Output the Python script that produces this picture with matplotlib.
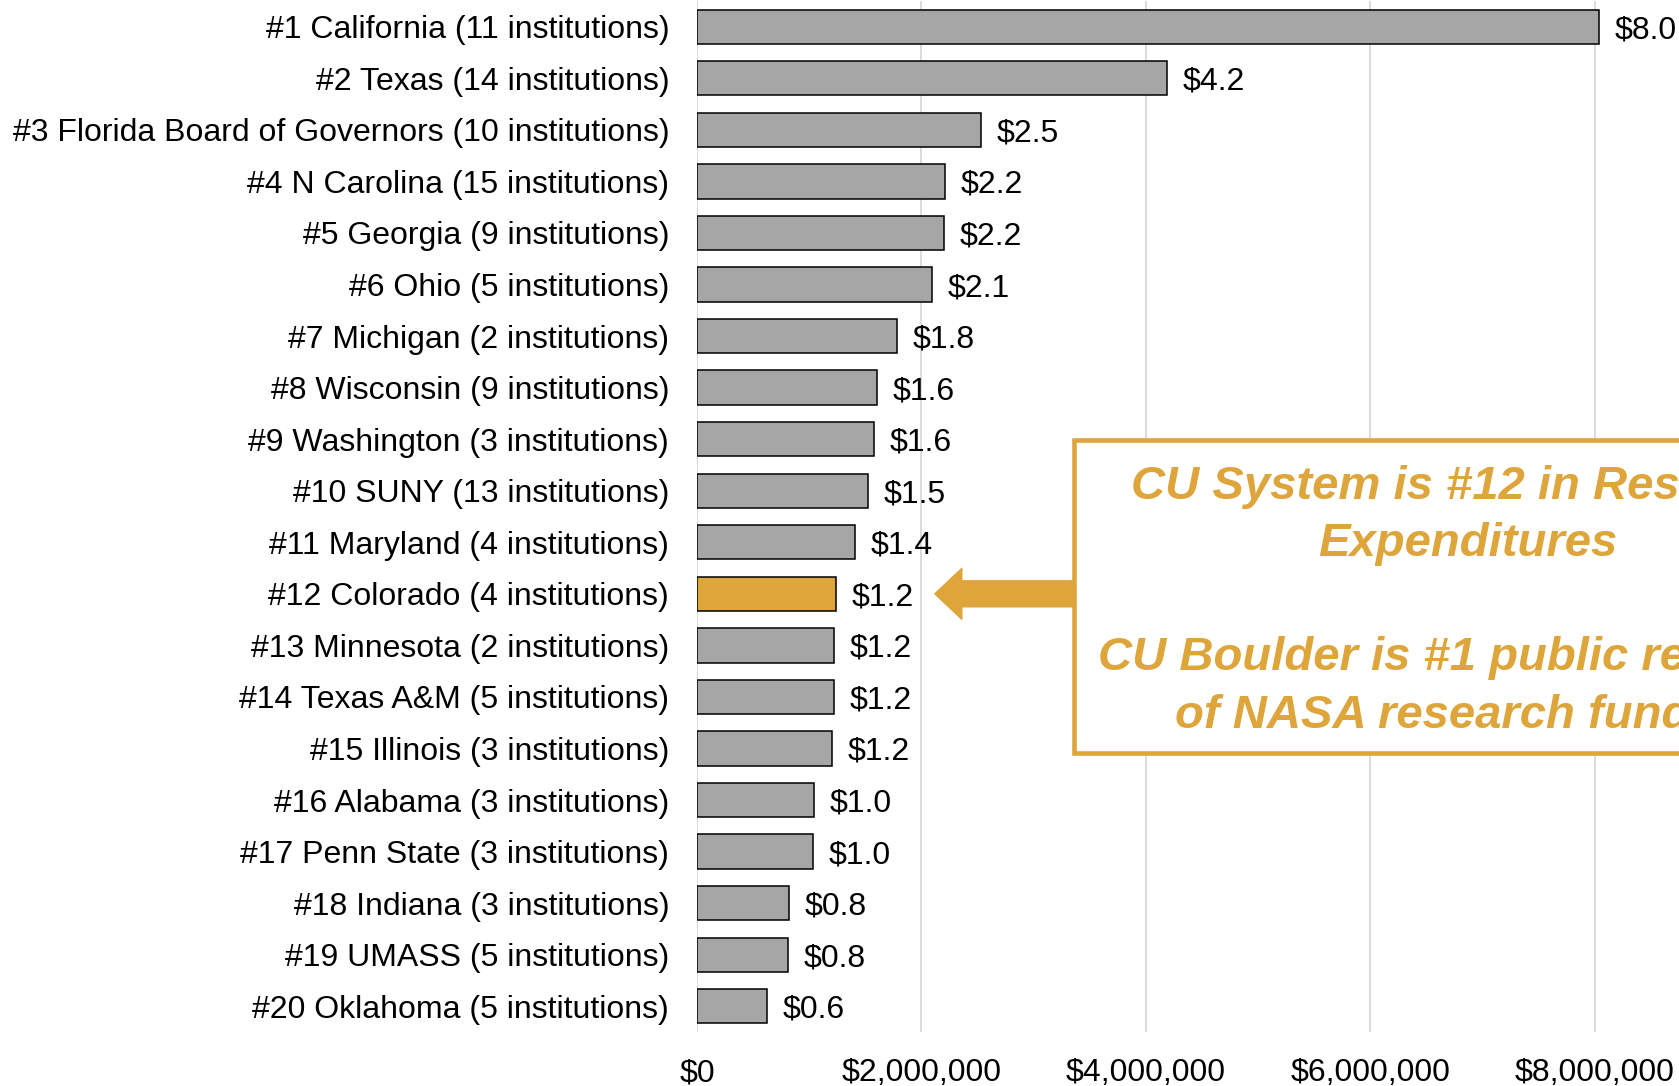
import numpy as np
import matplotlib.pyplot as plt
from matplotlib.patches import Rectangle
from matplotlib.ticker import FuncFormatter

plt.rcParams['font.family'] = ['Liberation Sans', 'DejaVu Sans']

# Research expenditures by system (in $ thousands)
systems = [
    "#1 California (11 institutions)",
    "#2 Texas (14 institutions)",
    "#3 Florida Board of Governors (10 institutions)",
    "#4 N Carolina (15 institutions)",
    "#5 Georgia (9 institutions)",
    "#6 Ohio (5 institutions)",
    "#7 Michigan (2 institutions)",
    "#8 Wisconsin (9 institutions)",
    "#9 Washington (3 institutions)",
    "#10 SUNY (13 institutions)",
    "#11 Maryland (4 institutions)",
    "#12 Colorado (4 institutions)",
    "#13 Minnesota (2 institutions)",
    "#14 Texas A&M (5 institutions)",
    "#15 Illinois (3 institutions)",
    "#16 Alabama (3 institutions)",
    "#17 Penn State (3 institutions)",
    "#18 Indiana (3 institutions)",
    "#19 UMASS (5 institutions)",
    "#20 Oklahoma (5 institutions)",
]
expenditures = [8040000, 4190000, 2530000, 2210000, 2200000, 2090000, 1780000,
                1600000, 1580000, 1520000, 1410000, 1240000, 1220000, 1220000,
                1200000, 1040000, 1030000, 820000, 810000, 620000]
highlight = "#12 Colorado (4 institutions)"
x_ticks = [0, 2000000, 4000000, 6000000, 8000000]

gray = '#A6A6A6'
gold = '#DEA53B'

fig = plt.figure(figsize=(16.79, 10.86), dpi=100)
ax = fig.add_axes([0.4151, 0.0497, 0.6016, 0.9494])

y = np.arange(len(systems))
colors = [gold if s == highlight else gray for s in systems]
ax.barh(y, expenditures, height=0.665, color=colors, edgecolor='black',
        linewidth=1.1, zorder=3)

# value labels in billions
for yi, v in zip(y, expenditures):
    ax.text(v + 140000, yi, "${:.1f}".format(v / 1e6), va='center_baseline',
            ha='left', fontsize=23, color='black')

ax.set_yticks(y)
ax.set_yticklabels(systems, fontsize=23)
ax.set_ylim(len(systems) - 0.5, -0.5)
ax.set_xlim(0, 9000000)
ax.set_xticks(x_ticks)
ax.xaxis.set_major_formatter(FuncFormatter(lambda v, p: "${:,.0f}".format(v)))
ax.tick_params(axis='x', length=0, labelsize=23, pad=19)
ax.tick_params(axis='y', length=0, pad=20)
ax.grid(axis='x', color='#D9D9D9', linewidth=1.3, zorder=0)
for sp in ax.spines.values():
    sp.set_visible(False)

# arrow pointing at Colorado
cu_idx = systems.index(highlight)
ax.annotate('', xy=(2120000, cu_idx), xytext=(3500000, cu_idx),
            arrowprops=dict(arrowstyle='simple,head_length=19.4,head_width=36.7,tail_width=18.7',
                            mutation_scale=1, color=gold, shrinkA=0, shrinkB=0),
            annotation_clip=False, zorder=4)

# callout box (runs off the right edge, as in the original)
box = Rectangle((0.6397, 0.3066), 0.4693, 0.2882, transform=fig.transFigure,
                facecolor='white', edgecolor=gold, linewidth=3.3, zorder=5,
                clip_on=False)
fig.patches.append(box)
fig.text(0.8743, 0.4465,
         "CU System is #12 in Research\nExpenditures\n\n"
         "CU Boulder is #1 public recipient\nof NASA research funding",
         ha='center', va='center', multialignment='center', fontsize=34,
         fontweight='bold', fontstyle='italic', color=gold, linespacing=1.39,
         zorder=6)

fig.savefig('out.png', dpi=100)
